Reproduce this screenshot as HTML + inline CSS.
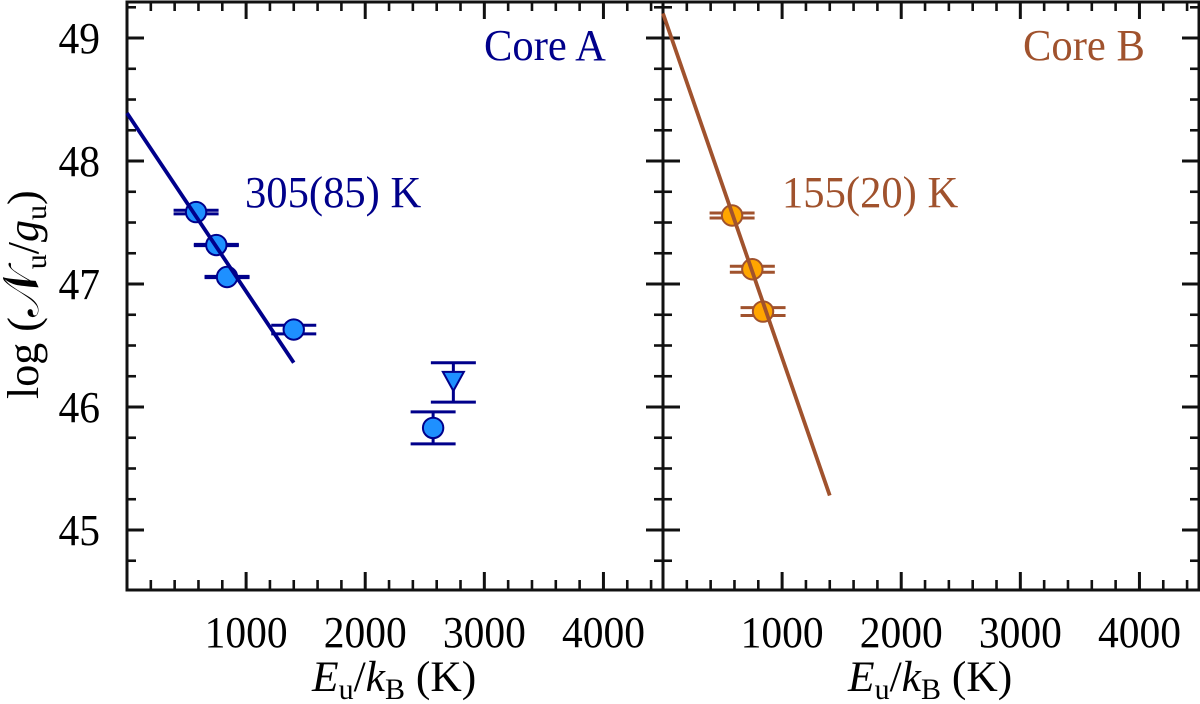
<!DOCTYPE html>
<html lang="en">
<head>
<meta charset="utf-8">
<title>Rotation diagrams of Core A and Core B</title>
<style>
html,body{margin:0;padding:0;background:#fff;}
svg{display:block;font-family:"Liberation Serif","DejaVu Serif",serif;}
</style>
</head>
<body>
<svg id="chart" xmlns="http://www.w3.org/2000/svg" width="1200" height="704" viewBox="0 0 1200 704">
  <rect x="0" y="0" width="1200" height="704" fill="#ffffff"/>
  <g id="panelA"></g>
  <g id="panelB"></g>
  <text transform="translate(38,399) rotate(-90)" font-size="44" fill="#000">log (<tspan font-size="50">𝒩</tspan><tspan font-size="30" dy="8">u</tspan><tspan dy="-8">/</tspan><tspan font-style="italic">g</tspan><tspan font-size="30" dy="8">u</tspan><tspan dy="-8">)</tspan></text>
  <text x="312" y="691" font-size="43.5" fill="#000"><tspan font-style="italic">E</tspan><tspan font-size="30" dy="8">u</tspan><tspan dy="-8">/</tspan><tspan font-style="italic">k</tspan><tspan font-size="30" dy="8">B</tspan><tspan dy="-8"> (K)</tspan></text>
  <text x="848" y="691" font-size="43.5" fill="#000"><tspan font-style="italic">E</tspan><tspan font-size="30" dy="8">u</tspan><tspan dy="-8">/</tspan><tspan font-style="italic">k</tspan><tspan font-size="30" dy="8">B</tspan><tspan dy="-8"> (K)</tspan></text>
</svg>
<script>
// Axis tick values
const xMajorTicks = [1000, 2000, 3000, 4000];
const xMinorTicks = [200, 400, 600, 800, 1200, 1400, 1600, 1800, 2200, 2400, 2600, 2800, 3200, 3400, 3600, 3800, 4200, 4400];
const yMajorTicks = [45, 46, 47, 48, 49];
const yMinorTicks = [44.75, 45.25, 45.5, 45.75, 46.25, 46.5, 46.75, 47.25, 47.5, 47.75, 48.25, 48.5, 48.75, 49.25];

// Core A data
const coreAEnergy = [580, 750, 840, 1400, 2570];
const coreALogN = [47.585, 47.317, 47.057, 46.63, 45.83];
const coreALow = [47.57, 47.312, 47.052, 46.595, 45.70];
const coreAHigh = [47.60, 47.322, 47.062, 46.665, 45.96];
const coreAUpperEnergy = [2740];
const coreAUpperLogN = [46.2];
const coreAUpperLow = [46.04];
const coreAUpperHigh = [46.36];
const coreAFitEnergy = [0, 1400];
const coreAFitLogN = [48.39, 46.36];

// Core B data
const coreBEnergy = [580, 750, 840];
const coreBLogN = [47.557, 47.12, 46.776];
const coreBLow = [47.537, 47.096, 46.744];
const coreBHigh = [47.577, 47.144, 46.808];
const coreBFitEnergy = [0, 1400];
const coreBFitLogN = [49.2, 45.28];

const NS = 'http://www.w3.org/2000/svg';
const xDomain = [0, 4500];
const yDomain = [44.512, 49.293];
const plotTop = 2, plotBottom = 590, panelWidth = 536;
const axisColor = '#111111';

function yScale(v) {
  return plotBottom - (v - yDomain[0]) / (yDomain[1] - yDomain[0]) * (plotBottom - plotTop);
}
function xScale(v, left) {
  return left + (v - xDomain[0]) / (xDomain[1] - xDomain[0]) * panelWidth;
}
function make(parent, tag, attrs, text) {
  const el = document.createElementNS(NS, tag);
  for (const k in attrs) el.setAttribute(k, attrs[k]);
  if (text !== undefined) el.textContent = text;
  parent.appendChild(el);
  return el;
}
function seg(parent, x1, y1, x2, y2, color, width, name) {
  const el = make(parent, 'line', {x1: x1, y1: y1, x2: x2, y2: y2, stroke: color, 'stroke-width': width});
  
  
  return el;
}

function drawAxes(g, left, showYLabels) {
  const right = left + panelWidth;
  const frame = make(g, 'rect', {x: left, y: plotTop, width: panelWidth, height: plotBottom - plotTop, fill: 'none', stroke: axisColor, 'stroke-width': 3});
  
  
  xMinorTicks.forEach(function (v) {
    const x = xScale(v, left);
    seg(g, x, plotBottom, x, plotBottom - 10, axisColor, 2.6, 'x-minor-tick');
    seg(g, x, plotTop, x, plotTop + 9, axisColor, 2.6, 'x-minor-tick-top');
  });
  xMajorTicks.forEach(function (v) {
    const x = xScale(v, left);
    seg(g, x, plotBottom, x, plotBottom - 18, axisColor, 3, 'x-major-tick');
    seg(g, x, plotTop, x, plotTop + 17, axisColor, 3, 'x-major-tick-top');
    const t = make(g, 'text', {transform: 'translate(' + x + ',647) scale(1,1.08)', 'font-size': 41.5, 'text-anchor': 'middle', fill: '#000'}, String(v));
    
    
  });
  yMinorTicks.forEach(function (v) {
    const y = yScale(v);
    seg(g, left, y, left + 9, y, axisColor, 2.6, 'y-minor-tick');
    seg(g, right, y, right - 9, y, axisColor, 2.6, 'y-minor-tick-right');
  });
  yMajorTicks.forEach(function (v) {
    const y = yScale(v);
    seg(g, left, y, left + 17, y, axisColor, 3, 'y-major-tick');
    seg(g, right, y, right - 17, y, axisColor, 3, 'y-major-tick-right');
    if (showYLabels) {
      const t = make(g, 'text', {transform: 'translate(100,' + (y + 15) + ') scale(1,1.08)', 'font-size': 41.5, 'text-anchor': 'end', fill: '#000'}, String(v));
      
      
    }
  });
}

function drawCaps(g, x, low, high, color) {
  const capHalf = 22.5;
  seg(g, x, yScale(low), x, yScale(high), color, 3, 'error-bar-stem');
  seg(g, x - capHalf, yScale(low), x + capHalf, yScale(low), color, 3, 'error-bar-lower-cap');
  seg(g, x - capHalf, yScale(high), x + capHalf, yScale(high), color, 3, 'error-bar-upper-cap');
}

function drawSeries(g, left, energy, logN, low, high, fitX, fitY, stroke, fill, name) {
  energy.forEach(function (e, i) {
    const x = xScale(e, left);
    drawCaps(g, x, low[i], high[i], stroke);
    const c = make(g, 'circle', {cx: x, cy: yScale(logN[i]), r: 10.2, fill: fill, stroke: stroke, 'stroke-width': 2});
    
    
  });
  const fit = make(g, 'line', {
    x1: xScale(fitX[0], left), y1: yScale(fitY[0]),
    x2: xScale(fitX[1], left), y2: yScale(fitY[1]),
    stroke: stroke, 'stroke-width': 3.8
  });
  
  
}

function drawUpperLimits(g, left, energy, logN, low, high, stroke, fill) {
  energy.forEach(function (e, i) {
    const x = xScale(e, left);
    const y = yScale(logN[i]);
    drawCaps(g, x, low[i], high[i], stroke);
    const tri = make(g, 'polygon', {
      points: (x - 10.5) + ',' + (y - 10.5) + ' ' + (x + 10.5) + ',' + (y - 10.5) + ' ' + x + ',' + (y + 8.5),
      fill: fill, stroke: stroke, 'stroke-width': 2
    });
    
    
  });
}

function label(g, x, y, text, color, name) {
  const t = make(g, 'text', {transform: 'translate(' + x + ',' + y + ') scale(1,1.04)', 'font-size': 42.6, fill: color}, text);
  
  
}

const navy = '#00008b', blue = '#1e90ff', sienna = '#a0522d', orange = '#ffa500';
const panelA = document.getElementById('panelA');
const panelB = document.getElementById('panelB');

drawAxes(panelA, 127, true);
drawAxes(panelB, 663, false);

drawUpperLimits(panelA, 127, coreAUpperEnergy, coreAUpperLogN, coreAUpperLow, coreAUpperHigh, navy, blue);
drawSeries(panelA, 127, coreAEnergy, coreALogN, coreALow, coreAHigh, coreAFitEnergy, coreAFitLogN, navy, blue, 'core-a');
drawSeries(panelB, 663, coreBEnergy, coreBLogN, coreBLow, coreBHigh, coreBFitEnergy, coreBFitLogN, sienna, orange, 'core-b');

label(panelA, 484, 60, 'Core A', navy, 'core-a-label');
label(panelA, 245, 207, '305(85) K', navy, 'core-a-temperature-label');
label(panelB, 1023, 60, 'Core B', sienna, 'core-b-label');
label(panelB, 782, 207, '155(20) K', sienna, 'core-b-temperature-label');
</script>
</body>
</html>
